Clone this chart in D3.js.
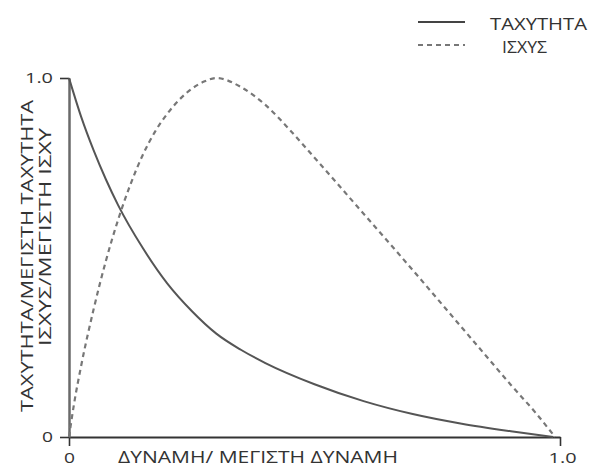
<!DOCTYPE html>
<html>
<head>
<meta charset="utf-8">
<script src="https://cdn.jsdelivr.net/npm/d3@7"></script>
<style>
  html, body { margin: 0; padding: 0; background: #fff; }
  svg { display: block; }
  text { font-family: "Open Sans", "Noto Sans", sans-serif; fill: #333; }
</style>
</head>
<body>
<svg id="chart" width="592" height="470"></svg>
<script>
// Normalised force (F / Fmax) for the velocity curve
const velocityForce = [0, 0.025, 0.05, 0.075, 0.1, 0.15, 0.2, 0.25, 0.3, 0.35, 0.4, 0.5, 0.6, 0.7, 0.8, 0.9, 0.986];
// Normalised velocity (V / Vmax)
const velocityValues = [1.0, 0.891, 0.799, 0.718, 0.646, 0.527, 0.428, 0.351, 0.288, 0.243, 0.206, 0.147, 0.100, 0.064, 0.037, 0.016, 0.0];

// Normalised force for the power curve
const powerForce = [0, 0.01, 0.025, 0.05, 0.075, 0.1, 0.125, 0.15, 0.175, 0.2, 0.225, 0.25, 0.275, 0.3, 0.35, 0.4, 0.45, 0.5, 0.6, 0.7, 0.8, 0.85, 0.9, 0.95, 0.99];
// Normalised power (P / Pmax)
const powerValues = [0, 0.09, 0.2, 0.355, 0.49, 0.605, 0.703, 0.785, 0.85, 0.9, 0.94, 0.97, 0.99, 1.0, 0.975, 0.925, 0.855, 0.778, 0.622, 0.465, 0.305, 0.225, 0.145, 0.068, 0.0];

const xTicks = [0, 1.0];
const xTickLabels = ["0", "1.0"];
const yTicks = [0, 1.0];
const yTickLabels = ["0", "1.0"];

const seriesNames = ["ΤΑΧΥΤΗΤΑ", "ΙΣΧΥΣ"];
const xTitle = "ΔΥΝΑΜΗ/ ΜΕΓΙΣΤΗ ΔΥΝΑΜΗ";
const yTitleLines = ["ΤΑΧΥΤΗΤΑ/ΜΕΓΙΣΤΗ ΤΑΧΥΤΗΤΑ", "ΙΣΧΥΣ/ΜΕΓΙΣΤΗ ΙΣΧΥ"];

const svg = d3.select("#chart");

const x = d3.scaleLinear().domain([0, 1]).range([69, 560]);
const y = d3.scaleLinear().domain([0, 1]).range([437, 78]);

const line = d3.line()
  .x(d => x(d[0]))
  .y(d => y(d[1]))
  .curve(d3.curveMonotoneX);

const velocityData = velocityForce.map((f, i) => [f, velocityValues[i]]);
const powerData = powerForce.map((f, i) => [f, powerValues[i]]);

// Axes: only the two end ticks are labelled
const xAxis = d3.axisBottom(x).tickValues(xTicks)
  .tickFormat((d, i) => xTickLabels[i]).tickSize(9).tickSizeOuter(0);
const yAxis = d3.axisLeft(y).tickValues(yTicks)
  .tickFormat((d, i) => yTickLabels[i]).tickSize(9).tickSizeOuter(0).tickPadding(7);

const gx = svg.append("g").attr("transform", `translate(0,${y(0)})`).call(xAxis);
const gy = svg.append("g").attr("transform", `translate(${x(0)},0)`).call(yAxis);

gx.select(".domain").attr("stroke", "#333").attr("stroke-width", 2);
gy.select(".domain").attr("stroke", "#6a6a6a").attr("stroke-width", 2.5);
[gx, gy].forEach(g => {
  g.selectAll(".tick line").attr("stroke", "#333").attr("stroke-width", 1.6);
  g.selectAll(".tick text")
    .attr("font-size", 15)
    .attr("font-family", "'Open Sans', sans-serif")
    .attr("fill", "#333")
    .attr("lengthAdjust", "spacingAndGlyphs")
    .attr("textLength", d => (d === 1 ? 28 : 11));
});
gx.selectAll(".tick text").attr("y", 0).attr("dy", null).attr("transform", "translate(0,26)");
gx.selectAll(".tick").filter(d => d === 1).select("text").attr("dx", 2);

// Curves
svg.append("path").datum(velocityData)
  .attr("d", line)
  .attr("fill", "none")
  .attr("stroke", "#555")
  .attr("stroke-width", 2);

svg.append("path").datum(powerData)
  .attr("d", line)
  .attr("fill", "none")
  .attr("stroke", "#777")
  .attr("stroke-width", 2.2)
  .attr("stroke-dasharray", "5,4");

// Axis titles
svg.append("text")
  .attr("x", 118).attr("y", 463)
  .attr("font-size", 16)
  .attr("textLength", 280)
  .attr("lengthAdjust", "spacingAndGlyphs")
  .text(xTitle);

// Two-line vertical title, read bottom to top
const yTitlePos = [
  { bx: 33, cy: 256, len: 312 },
  { bx: 51, cy: 237, len: 218 }
];
yTitleLines.forEach((t, i) => {
  const p = yTitlePos[i];
  svg.append("text")
    .attr("transform", `translate(${p.bx},${p.cy}) rotate(-90) scale(1,1.12)`)
    .attr("text-anchor", "middle")
    .attr("font-size", 15)
    .attr("textLength", p.len)
    .attr("lengthAdjust", "spacingAndGlyphs")
    .text(t);
});

// Legend
const legend = svg.append("g");
const legendRows = [
  { name: seriesNames[0], dash: null, stroke: "#444", ly: 22, tx: 490, len: 97 },
  { name: seriesNames[1], dash: "5,4", stroke: "#777", ly: 45, tx: 502, len: 45 }
];
legendRows.forEach(r => {
  legend.append("line")
    .attr("x1", 418).attr("x2", 465)
    .attr("y1", r.ly).attr("y2", r.ly)
    .attr("stroke", r.stroke)
    .attr("stroke-width", 2)
    .attr("stroke-dasharray", r.dash);
  legend.append("text")
    .attr("x", r.tx).attr("y", r.ly + 8)
    .attr("font-size", 16)
    .attr("textLength", r.len)
    .attr("lengthAdjust", "spacingAndGlyphs")
    .text(r.name);
});
</script>
</body>
</html>
